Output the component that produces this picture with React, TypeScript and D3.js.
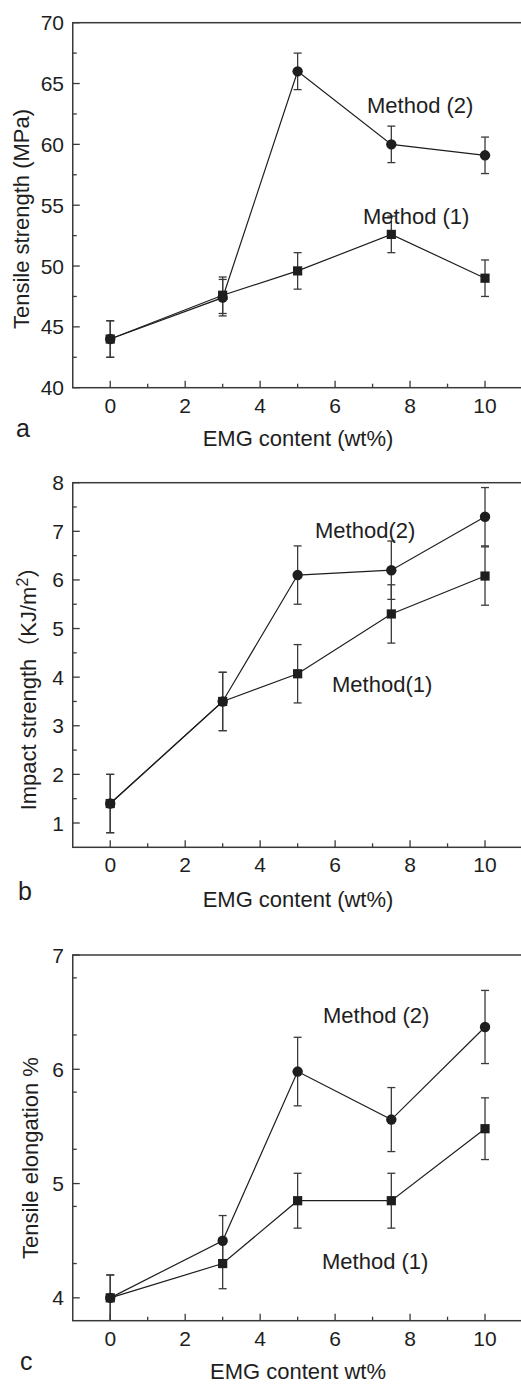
import React from 'react';
import * as d3 from 'd3';

// EMG content (wt%)
const emg = [0, 3, 5, 7.5, 10];
const xTicks = [0, 2, 4, 6, 8, 10];

// panel a - tensile strength (MPa)
const tensileM1 = [44, 47.6, 49.6, 52.6, 49];
const tensileM1Err = [1.5, 1.5, 1.5, 1.5, 1.5];
const tensileM2 = [44, 47.4, 66, 60, 59.1];
const tensileM2Err = [1.5, 1.5, 1.5, 1.5, 1.5];
const tensileTicks = [40, 45, 50, 55, 60, 65, 70];

// panel b - impact strength (KJ/m2)
const impactM1 = [1.4, 3.5, 4.07, 5.3, 6.08];
const impactM1Err = [0.6, 0.6, 0.6, 0.6, 0.6];
const impactM2 = [1.4, 3.5, 6.1, 6.2, 7.3];
const impactM2Err = [0.6, 0.6, 0.6, 0.6, 0.6];
const impactTicks = [1, 2, 3, 4, 5, 6, 7, 8];

// panel c - tensile elongation %
const elongM1 = [4.0, 4.3, 4.85, 4.85, 5.48];
const elongM1Err = [0.2, 0.22, 0.24, 0.24, 0.27];
const elongM2 = [4.0, 4.5, 5.98, 5.56, 6.37];
const elongM2Err = [0.2, 0.22, 0.3, 0.28, 0.32];
const elongTicks = [4, 5, 6, 7];

const FONT = '"Liberation Sans", Arial, "Noto Sans CJK SC", sans-serif';
const INK = '#1e1e1e';
const AXIS = '#3a3a3a';

const x = d3.scaleLinear().domain([-1, 11]).range([72.75, 522.5]);

function Panel(props) {
  const { top, bottom, yDomain, yTicks, yMinorStep, m1, m1Err, m2, m2Err,
    yLabel, yLabelX, yLabelY, letter, xTitle, notes } = props;

  const y = d3.scaleLinear().domain(yDomain).range([bottom, top]);
  const line = d3.line<number>().x((d, i) => x(emg[i])).y(d => y(d));

  const yMinor = d3.range(yDomain[0], yDomain[1] + 1e-9, yMinorStep)
    .filter(v => !yTicks.some(t => Math.abs(t - v) < 1e-6) && v > yDomain[0] + 1e-6 && v < yDomain[1] - 1e-6);
  const xMinor = [1, 3, 5, 7, 9];
  const x0 = x(-1);
  const x1 = x(11);

  const errBars = (vals, errs) => vals.map((v, i) => {
    const cx = x(emg[i]);
    const lo = Math.max(v - errs[i], yDomain[0]);
    const hi = v + errs[i];
    return (
      <g key={i} stroke={AXIS} strokeWidth={1.3}>
        <line x1={cx} x2={cx} y1={y(lo)} y2={y(hi)} />
        <line x1={cx - 4} x2={cx + 4} y1={y(hi)} y2={y(hi)} />
        {v - errs[i] > yDomain[0] && <line x1={cx - 4} x2={cx + 4} y1={y(lo)} y2={y(lo)} />}
      </g>
    );
  });

  return (
    <g>
      {/* frame */}
      <rect x={x0} y={top} width={x1 - x0} height={bottom - top} fill="none" stroke={AXIS} strokeWidth={1.5} />
      {yTicks.map(t => (
        <g key={'yt' + t}>
          <line x1={x0} x2={x0 + 7} y1={y(t)} y2={y(t)} stroke={AXIS} strokeWidth={1.3} />
          <text x={64} y={y(t)} dy="0.36em" textAnchor="end" fontSize={21} fill={INK}>{t}</text>
        </g>
      ))}
      {yMinor.map(t => (
        <line key={'ym' + t} x1={x0} x2={x0 + 4} y1={y(t)} y2={y(t)} stroke={AXIS} strokeWidth={1.3} />
      ))}
      {xTicks.map(t => (
        <g key={'xt' + t}>
          <line x1={x(t)} x2={x(t)} y1={bottom} y2={bottom - 7} stroke={AXIS} strokeWidth={1.3} />
          <text x={x(t)} y={bottom + 25} textAnchor="middle" fontSize={21} fill={INK}>{t}</text>
        </g>
      ))}
      {xMinor.map(t => (
        <line key={'xm' + t} x1={x(t)} x2={x(t)} y1={bottom} y2={bottom - 4} stroke={AXIS} strokeWidth={1.3} />
      ))}

      {errBars(m1, m1Err)}
      {errBars(m2, m2Err)}

      <path d={line(m1)} fill="none" stroke={INK} strokeWidth={1.2} />
      <path d={line(m2)} fill="none" stroke={INK} strokeWidth={1.2} />
      {m1.map((v, i) => (
        <rect key={'s' + i} x={x(emg[i]) - 4.6} y={y(v) - 4.6} width={9.2} height={9.2} fill={INK} />
      ))}
      {m2.map((v, i) => (
        <circle key={'c' + i} cx={x(emg[i])} cy={y(v)} r={5.2} fill={INK} />
      ))}

      {notes.map((n, i) => (
        <text key={'n' + i} x={n.x} y={n.y} fontSize={22} fill={INK}>{n.text}</text>
      ))}

      <text transform={`translate(${yLabelX},${yLabelY}) rotate(-90)`} textAnchor="middle" fontSize={22} fill={INK}>
        {yLabel}
      </text>
      <text x={letter.x} y={letter.y} fontSize={25} fill={INK}>{letter.text}</text>
      <text x={298} y={xTitle.y} textAnchor="middle" fontSize={22} fill={INK}>{xTitle.text}</text>
    </g>
  );
}

export default function App() {
  return (
    <svg width={521} height={1385} style={{ position: 'absolute', left: 0, top: 0, background: '#fff' }}
      fontFamily={FONT}>
      <rect width={521} height={1385} fill="#fff" />
      <Panel top={22.7} bottom={387.7} yDomain={[40, 70]} yTicks={tensileTicks} yMinorStep={2.5}
        m1={tensileM1} m1Err={tensileM1Err} m2={tensileM2} m2Err={tensileM2Err}
        yLabel="Tensile strength (MPa)" yLabelX={29} yLabelY={219}
        letter={{ text: 'a', x: 16, y: 437 }} xTitle={{ text: 'EMG content (wt%)', y: 446 }}
        notes={[{ text: 'Method (2)', x: 367, y: 113 }, { text: 'Method (1)', x: 363, y: 224 }]} />
      <Panel top={482.7} bottom={847.3} yDomain={[0.5, 8]} yTicks={impactTicks} yMinorStep={0.5}
        m1={impactM1} m1Err={impactM1Err} m2={impactM2} m2Err={impactM2Err}
        yLabel={<>Impact strength（KJ/m<tspan dy={-8} fontSize={16}>2</tspan><tspan dy={8}>）</tspan></>}
        yLabelX={36} yLabelY={683}
        letter={{ text: 'b', x: 18, y: 900 }} xTitle={{ text: 'EMG content (wt%)', y: 907 }}
        notes={[{ text: 'Method(2)', x: 315, y: 538 }, { text: 'Method(1)', x: 332, y: 692 }]} />
      <Panel top={955} bottom={1320.7} yDomain={[3.8, 7]} yTicks={elongTicks} yMinorStep={0.5}
        m1={elongM1} m1Err={elongM1Err} m2={elongM2} m2Err={elongM2Err}
        yLabel="Tensile elongation %" yLabelX={38} yLabelY={1158}
        letter={{ text: 'c', x: 20, y: 1370 }} xTitle={{ text: 'EMG content wt%', y: 1379 }}
        notes={[{ text: 'Method (2)', x: 323, y: 1023 }, { text: 'Method (1)', x: 322, y: 1269 }]} />
    </svg>
  );
}
